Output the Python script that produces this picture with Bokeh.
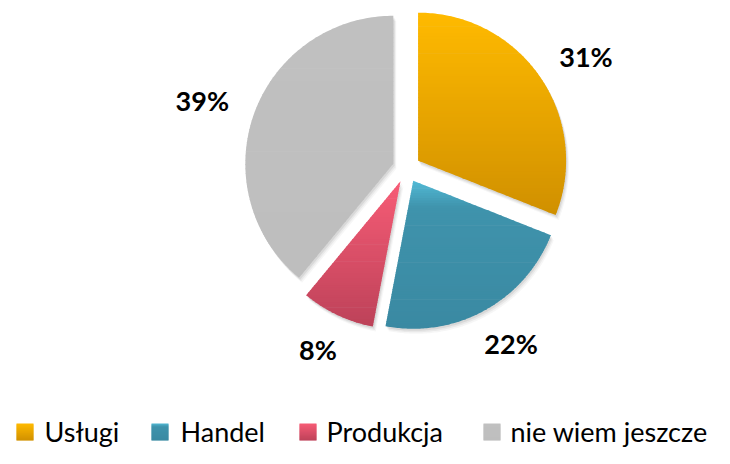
import numpy as np
from bokeh.plotting import figure
from bokeh.models import Range1d
from bokeh.core.properties import value
from bokeh.embed import file_html
from bokeh.resources import INLINE

# ---- data ----
categories = ["Usługi", "Handel", "Produkcja", "nie wiem jeszcze"]
shares = [31, 22, 8, 39]
pct_labels = ["31%", "22%", "8%", "39%"]

# ---- styles ----
color_stops = [
    [(0.0, "#FFBA00"), (1.0, "#D09000")],
    [(0.0, "#52BAD6"), (0.18, "#3F93AC"), (1.0, "#3A89A2")],
    [(0.0, "#F75C76"), (1.0, "#BD4259")],
    [(0.0, "#C0C0C0"), (1.0, "#BEBEBE")],
]
FONT = "Lato"

# ---- layout ----
W, H = 714, 448
cx, cy, R, explode = 406.0, 168.0, 148.0, 14.0
label_r = 190.0
legend_sq_x = [16, 151, 299, 483]
legend_tx_x = [44, 180, 326, 510]
legend_sq_size = 17
legend_mid = 431
legend_sq_top = legend_mid - 8


def hex2rgb(h):
    h = h.lstrip("#")
    return np.array([int(h[i:i + 2], 16) for i in (0, 2, 4)], dtype=float)


def color_at(stops, t):
    for (t0, c0), (t1, c1) in zip(stops[:-1], stops[1:]):
        if t <= t1:
            f = 0 if t1 == t0 else (t - t0) / (t1 - t0)
            c = hex2rgb(c0) * (1 - f) + hex2rgb(c1) * f
            return "#%02x%02x%02x" % tuple(int(round(v)) for v in c)
    return stops[-1][1]


def clip_half(pts, ylim, keep_ge):
    out = []
    n = len(pts)
    for i in range(n):
        P, Q = pts[i], pts[(i + 1) % n]
        pin = P[1] >= ylim if keep_ge else P[1] <= ylim
        qin = Q[1] >= ylim if keep_ge else Q[1] <= ylim
        if pin:
            out.append(P)
        if pin != qin:
            t = (ylim - P[1]) / (Q[1] - P[1])
            out.append((P[0] + t * (Q[0] - P[0]), ylim))
    return out


def gradient_bands(px, py, stops, nb=60):
    pts = list(zip(px, py))
    y0, y1 = min(py), max(py)
    xs, ys, cs = [], [], []
    step = (y1 - y0) / nb
    for k in range(nb):
        a = y0 + k * step
        b = a + step + 0.7
        poly = clip_half(clip_half(pts, a, True), b, False)
        if len(poly) < 3:
            continue
        xs.append([q[0] for q in poly])
        ys.append([q[1] for q in poly])
        cs.append(color_at(stops, (k + 0.5) / nb))
    return xs, ys, cs


p = figure(width=W, height=H, x_range=Range1d(0, W), y_range=Range1d(H, 0),
           x_axis_type=None, y_axis_type=None, toolbar_location=None,
           output_backend="svg", min_border=0, outline_line_color=None,
           background_fill_color="white", border_fill_color="white")
p.grid.visible = False

total = float(sum(shares))
starts = np.cumsum([0] + shares[:-1]) / total * 2 * np.pi
spans = np.array(shares) / total * 2 * np.pi

wedges = []
for s, sp in zip(starts, spans):
    mid = s + sp / 2
    ax = cx + explode * np.sin(mid)
    ay = cy - explode * np.cos(mid)
    th = np.linspace(s, s + sp, 120)
    px = [ax] + list(ax + R * np.sin(th))
    py = [ay] + list(ay - R * np.cos(th))
    wedges.append((px, py, mid))

# soft shadow
for k, a in [(5, 0.035), (3.5, 0.05), (2, 0.07)]:
    p.patches(xs=[[x + k * 0.6 for x in w[0]] for w in wedges],
              ys=[[y + k for y in w[1]] for w in wedges],
              fill_color="black", fill_alpha=a, line_color=None)

for (px, py, mid), stops in zip(wedges, color_stops):
    xs, ys, cs = gradient_bands(px, py, stops)
    p.patches(xs=xs, ys=ys, fill_color=cs, line_color=None)

# percentage labels (outside end: label box touches a circle of radius label_r)
lx, ly = [], []
for (px, py, mid), lab in zip(wedges, pct_labels):
    dx, dy = np.sin(mid), -np.cos(mid)
    w, h = 18 * len(lab), 20
    lx.append(cx + label_r * dx + dx * w / 2)
    ly.append(cy + label_r * dy + dy * h / 2)
p.text(x=lx, y=ly, text=pct_labels, text_font=value(FONT), text_font_style="bold",
       text_font_size="27px", text_color="black", text_align="center",
       text_baseline="middle")

# legend
for sx, stops in zip(legend_sq_x, color_stops):
    sq_x = [sx, sx + legend_sq_size, sx + legend_sq_size, sx]
    sq_y = [legend_sq_top, legend_sq_top, legend_sq_top + legend_sq_size,
            legend_sq_top + legend_sq_size]
    xs, ys, cs = gradient_bands(sq_x, sq_y, stops, nb=17)
    p.patches(xs=xs, ys=ys, fill_color=cs, line_color=None)
p.text(x=legend_tx_x, y=[legend_mid] * len(categories), text=categories,
       text_font=value(FONT), text_font_size="27px", text_color="#000000",
       text_align="left", text_baseline="middle")

open("out.html", "w").write(file_html(p, INLINE))
